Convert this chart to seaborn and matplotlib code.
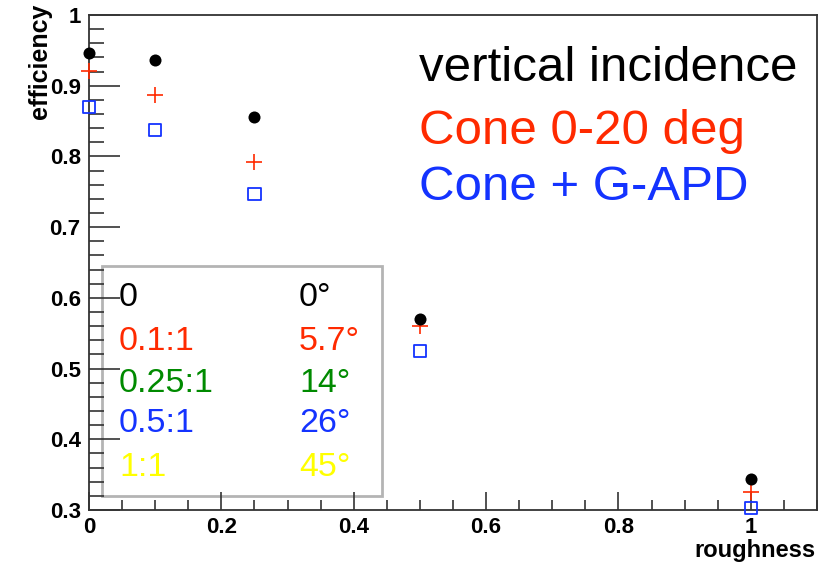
import matplotlib
matplotlib.use("Agg")
import matplotlib.pyplot as plt
import seaborn as sns
import pandas as pd
from matplotlib.ticker import MultipleLocator, FixedLocator
from matplotlib.patches import Rectangle

sns.set_theme(style="white")
plt.rcParams['font.family'] = ['Liberation Sans', 'DejaVu Sans']

roughness = [0.0, 0.1, 0.25, 0.5, 1.0]
vertical = [0.946, 0.936, 0.856, 0.570, 0.344]
cone = [0.921, 0.887, 0.792, 0.560, 0.325]
cone_gapd = [0.870, 0.837, 0.747, 0.525, 0.303]

series_names = ["vertical incidence", "Cone 0-20 deg", "Cone + G-APD"]
series_colors = ["#000000", "#ff2a00", "#1433ff"]

ratio_labels = ["0", "0.1:1", "0.25:1", "0.5:1", "1:1"]
angle_labels = ["0\u00b0", "5.7\u00b0", "14\u00b0", "26\u00b0", "45\u00b0"]
ratio_colors = ["#000000", "#ff2a00", "#008a00", "#1433ff", "#ffff00"]

y_ticks = [0.3, 0.4, 0.5, 0.6, 0.7, 0.8, 0.9, 1.0]
y_tick_labels = ["0.3", "0.4", "0.5", "0.6", "0.7", "0.8", "0.9", "1"]
x_ticks = [0.0, 0.2, 0.4, 0.6, 0.8, 1.0]
x_tick_labels = ["0", "0.2", "0.4", "0.6", "0.8", "1"]

fig = plt.figure(figsize=(8.24, 5.62), dpi=100)
W, H = 824, 562
left, right, top, bottom = 89, 817, 15, 510
ax = fig.add_axes([left / W, 1 - bottom / H, (right - left) / W, (bottom - top) / H])
ax.set_facecolor("white")
ax.set_axisbelow(False)

df = pd.DataFrame({"x": roughness, "v": vertical, "c": cone, "g": cone_gapd})
sns.scatterplot(data=df, x="x", y="v", ax=ax, color=series_colors[0], marker="o",
                s=75, edgecolor=series_colors[0], linewidth=0, zorder=5, clip_on=False)
sns.scatterplot(data=df, x="x", y="c", ax=ax, color=series_colors[1], marker="+",
                s=120, linewidth=1.2, zorder=4, clip_on=False)
sns.scatterplot(data=df, x="x", y="g", ax=ax, marker="s", s=80,
                facecolor="none", edgecolor=series_colors[2], linewidth=1.3, zorder=3,
                clip_on=False)

ax.set_xlim(0, 1.1)
ax.set_ylim(0.3, 1.0)
ax.set_xlabel("")
ax.set_ylabel("")

ax.xaxis.set_major_locator(FixedLocator(x_ticks))
ax.set_xticklabels(x_tick_labels)
ax.yaxis.set_major_locator(FixedLocator(y_ticks))
ax.set_yticklabels(y_tick_labels)
ax.xaxis.set_minor_locator(MultipleLocator(0.05))
ax.yaxis.set_minor_locator(MultipleLocator(0.02))

ax.tick_params(axis="both", which="both", direction="in", top=False, right=False,
               left=True, bottom=True, color="#333333", width=1.2)
ax.tick_params(axis="y", which="major", length=22, pad=6, labelsize=16)
ax.tick_params(axis="y", which="minor", length=11)
ax.tick_params(axis="x", which="major", length=13, pad=5, labelsize=16)
ax.tick_params(axis="x", which="minor", length=7)
for lab in ax.get_xticklabels() + ax.get_yticklabels():
    lab.set_fontweight("bold")
    lab.set_color("black")

for sp in ax.spines.values():
    sp.set_color("#333333")
    sp.set_linewidth(1.3)
    sp.set_visible(True)

fig.text(40 / W, 1 - 4 / H, "efficiency", rotation=90, ha="center", va="top",
         fontsize=18, fontweight="bold", color="black")
fig.text(815 / W, 1 - 550 / H, "roughness", ha="right", va="center",
         fontsize=17, fontweight="bold", color="black")

# series annotation (top right)
ys = [68, 132, 188]
for name, col, yy in zip(series_names, series_colors, ys):
    fig.text(419 / W, 1 - yy / H, name, ha="left", va="center",
             fontsize=35.5, color=col)

# ratio / angle box (drawn beneath the axis ticks)
bx0, bx1, by0, by1 = 102, 382, 266, 496
rect = Rectangle((bx0 / W, 1 - by1 / H), (bx1 - bx0) / W, (by1 - by0) / H,
                 transform=fig.transFigure, facecolor="white", edgecolor="#b4b4b4",
                 linewidth=2, zorder=1, clip_on=False)
ax.add_patch(rect)
rows = [298, 341, 383, 424, 467]
for r, a, col, yy in zip(ratio_labels, angle_labels, ratio_colors, rows):
    ax.text(119 / W, 1 - yy / H, r, ha="left", va="center", fontsize=24.5,
            color=col, zorder=11, transform=fig.transFigure)
    ax.text(299 / W, 1 - yy / H, a, ha="left", va="center", fontsize=24.5,
            color=col, zorder=11, transform=fig.transFigure)

fig.savefig("out.png", dpi=100, facecolor="white")
